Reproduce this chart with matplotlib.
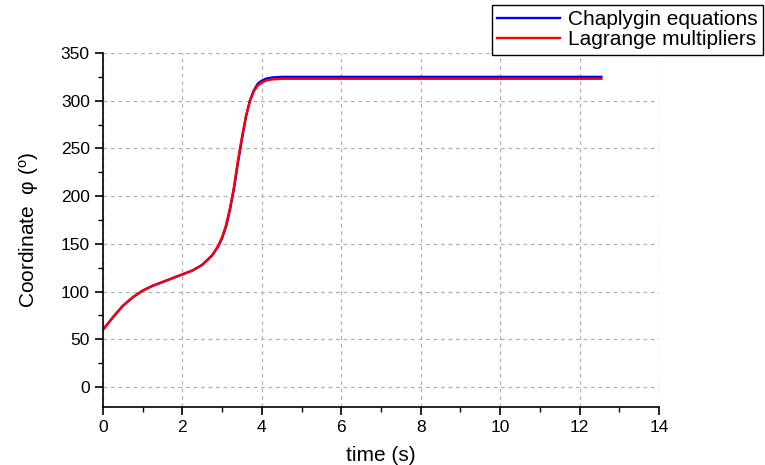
import matplotlib
matplotlib.use("Agg")
import matplotlib.pyplot as plt
from matplotlib.ticker import MultipleLocator

plt.rcParams['font.family'] = ['Liberation Sans', 'DejaVu Sans']
plt.rcParams['mathtext.fontset'] = 'custom'
plt.rcParams['mathtext.rm'] = 'Liberation Sans'
plt.rcParams['mathtext.it'] = 'Liberation Sans'

# time samples (s)
t = [0, 0.25, 0.5, 0.75, 1.0, 1.25, 1.5, 1.75, 2.0, 2.25, 2.5, 2.75, 2.9, 3.0,
     3.1, 3.2, 3.3, 3.4, 3.5, 3.6, 3.7, 3.8, 3.9, 4.0, 4.1, 4.25, 4.5, 5.0,
     6.0, 8.0, 10.0, 12.55]

chaplygin = [60, 73, 85, 94, 101, 106, 110, 114, 118, 122, 128, 138, 147, 156,
             168, 186, 208, 235, 260, 283, 300, 311, 318, 321, 323, 324.3, 325, 325,
             325, 325, 325, 325]

lagrange = [60, 73, 85, 94, 101, 106, 110, 114, 118, 122, 128, 138, 148, 157,
            170, 188, 210, 238, 262, 284, 300, 310, 316, 319, 321, 322.3, 323, 323,
            323, 323, 323, 323]

fig = plt.figure(figsize=(7.65, 4.65), dpi=100)
ax = fig.add_axes([0.1346, 0.1247, 0.7268, 0.7613])

ax.plot(t, chaplygin, color='blue', lw=1.7, label='Chaplygin equations')
ax.plot(t, lagrange, color='red', lw=1.7, label='Lagrange multipliers')

ax.set_xlim(0, 14)
ax.set_ylim(-21, 350)
ax.xaxis.set_major_locator(MultipleLocator(2))
ax.xaxis.set_minor_locator(MultipleLocator(1))
ax.yaxis.set_major_locator(MultipleLocator(50))
ax.yaxis.set_minor_locator(MultipleLocator(25))

ax.grid(True, which='major', color='#b0b0b0', linestyle=(0, (3, 3)), lw=0.9)
for s in ['top', 'right']:
    ax.spines[s].set_visible(False)
ax.spines['left'].set_linewidth(1.2)
ax.spines['bottom'].set_linewidth(1.2)
ax.tick_params(which='major', direction='out', length=6, width=1.2, labelsize=12.5)
ax.tick_params(which='minor', direction='out', length=3.5, width=1.0)

ax.set_xlabel('time (s)', fontsize=15, labelpad=8)
ax.set_ylabel(r'Coordinate  φ ($^o$)', fontsize=15, labelpad=14)

fig.legend(loc='upper right', bbox_to_anchor=(1.003, 0.998), fontsize=15,
           frameon=True, fancybox=False, edgecolor='black', framealpha=1,
           handlelength=3.0, borderpad=0.25, labelspacing=0.05, handletextpad=0.4,
           borderaxespad=0.2)

fig.savefig('out.png', dpi=100)
